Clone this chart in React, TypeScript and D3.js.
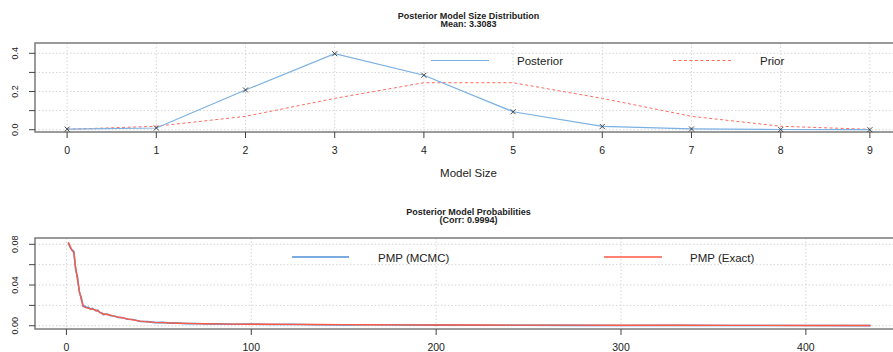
import React, { Component } from 'react';
import * as d3 from 'd3';

// top panel: model size distribution
const modelSizes = [0, 1, 2, 3, 4, 5, 6, 7, 8, 9];
const posteriorSize = [0.003, 0.009, 0.208, 0.398, 0.285, 0.094, 0.017, 0.004, 0.001, 0.0];
const priorSize = [0.002, 0.018, 0.07, 0.164, 0.246, 0.246, 0.164, 0.07, 0.018, 0.002];
const sizeTicksY = [0, 0.1, 0.2, 0.3, 0.4];
const sizeLabelsY = ['0.0', '', '0.2', '', '0.4'];

// bottom panel: posterior model probabilities by model rank
const pmpRanks = [1, 2, 3, 4, 5, 6, 7, 8, 9, 10, 11, 12, 13, 14, 15, 16, 17, 18, 19, 20, 22, 24, 26, 28, 30, 33, 36, 40, 44, 48, 52, 56, 60, 65, 70, 75, 80, 90, 100, 110, 120, 135, 150, 165, 180, 200, 225, 250, 275, 300, 330, 360, 400, 435];
const pmpExact = [0.082, 0.078, 0.074, 0.072, 0.057, 0.045, 0.034, 0.026, 0.02, 0.018, 0.0175, 0.0172, 0.0168, 0.0163, 0.0158, 0.0152, 0.0145, 0.0135, 0.0122, 0.0115, 0.011, 0.0104, 0.0092, 0.0085, 0.0078, 0.0068, 0.0058, 0.0045, 0.0038, 0.0033, 0.0031, 0.0028, 0.0025, 0.0023, 0.0021, 0.002, 0.0018, 0.0016, 0.0015, 0.0014, 0.0013, 0.0012, 0.0011, 0.001, 0.0009, 0.0008, 0.0007, 0.0006, 0.0006, 0.0005, 0.0005, 0.0004, 0.0003, 0.0003];
const pmpMcmc = [0.0815, 0.077, 0.0745, 0.073, 0.055, 0.048, 0.033, 0.028, 0.019, 0.019, 0.018, 0.0182, 0.0162, 0.017, 0.0158, 0.0146, 0.0152, 0.013, 0.0127, 0.011, 0.0115, 0.0098, 0.0096, 0.0081, 0.0081, 0.0064, 0.0061, 0.0042, 0.004, 0.0031, 0.0033, 0.0026, 0.0026, 0.0021, 0.0022, 0.0018, 0.0018, 0.0014, 0.0016, 0.0012, 0.0014, 0.001, 0.0009, 0.001, 0.0007, 0.0006, 0.0005, 0.0005, 0.0004, 0.0003, 0.0004, 0.0002, 0.0002, 0.0001];
const rankTicksX = [0, 100, 200, 300, 400];
const pmpTicksY = [0, 0.02, 0.04, 0.06, 0.08];
const pmpLabelsY = ['0.00', '', '0.04', '', '0.08'];

const FONT = '"Liberation Sans", Arial, sans-serif';
const TEXT = '#222';
const GRID = '#d6d6d6';
const FRAME = '#7a7a7a';

class App extends Component {
    svgRef = React.createRef<SVGSVGElement>();

    componentDidMount() {
        this.draw();
    }

    draw() {
        const svg = d3.select(this.svgRef.current);
        svg.selectAll('*').remove();

        //shared bits for both panels: grid, frame, axes
        const panel = (opts: any) => {
            const { x, y, xTicks, yTicks, yLabels, top, bottom, left, right } = opts;
            const g = svg.append('g');

            //dotted grid
            g.selectAll('.vgrid').data(xTicks).enter().append('line')
                .attr('x1', (d: any) => x(d)).attr('x2', (d: any) => x(d))
                .attr('y1', top).attr('y2', bottom)
                .attr('stroke', GRID).attr('stroke-dasharray', '1.5,2');
            g.selectAll('.hgrid').data(yTicks).enter().append('line')
                .attr('x1', left).attr('x2', right)
                .attr('y1', (d: any) => y(d)).attr('y2', (d: any) => y(d))
                .attr('stroke', GRID).attr('stroke-dasharray', '1.5,2');

            //frame (right edge falls outside the window)
            g.append('rect')
                .attr('x', left).attr('y', top)
                .attr('width', right - left).attr('height', bottom - top)
                .attr('fill', 'none').attr('stroke', FRAME).attr('stroke-width', 1.5);

            //x ticks
            g.selectAll('.xt').data(xTicks).enter().append('line')
                .attr('x1', (d: any) => x(d)).attr('x2', (d: any) => x(d))
                .attr('y1', bottom).attr('y2', bottom + 6)
                .attr('stroke', '#444');
            g.selectAll('.xl').data(xTicks).enter().append('text')
                .attr('x', (d: any) => x(d)).attr('y', bottom + 22)
                .attr('text-anchor', 'middle')
                .style('font', `10.5px ${FONT}`).attr('fill', TEXT)
                .text((d: any) => d);

            //y ticks, rotated labels
            g.selectAll('.yt').data(yTicks).enter().append('line')
                .attr('x1', left - 6).attr('x2', left)
                .attr('y1', (d: any) => y(d)).attr('y2', (d: any) => y(d))
                .attr('stroke', '#444');
            g.selectAll('.yl').data(yTicks).enter().append('text')
                .attr('transform', (d: any) => `translate(18, ${y(d)}) rotate(-90)`)
                .attr('text-anchor', 'middle')
                .style('font', `9px ${FONT}`).attr('fill', TEXT)
                .text((d: any, i: number) => yLabels[i]);
            return g;
        };

        const title = (lines: string[], cx: number, y0: number) => {
            lines.forEach((t, i) => {
                svg.append('text')
                    .attr('x', cx).attr('y', y0 + i * 8.8)
                    .attr('text-anchor', 'middle')
                    .style('font', `bold 9px ${FONT}`).attr('fill', TEXT)
                    .text(t);
            });
        };

        const legendItem = (x1: number, x2: number, y: number, color: string, width: number, dash: string | null, label: string, tx: number) => {
            svg.append('line')
                .attr('x1', x1).attr('x2', x2).attr('y1', y).attr('y2', y)
                .attr('stroke', color).attr('stroke-width', width)
                .attr('stroke-dasharray', dash);
            svg.append('text')
                .attr('x', tx).attr('y', y + 4.5)
                .style('font', `11.5px ${FONT}`).attr('fill', TEXT)
                .text(label);
        };

        const left = 35;
        const right = 902;

        //******** TOP: model size ********/
        const x1 = d3.scaleLinear().domain([-0.36, 9.36]).range([left, right]);
        const y1 = d3.scaleLinear().domain([-0.012, 0.454]).range([132, 43]);

        panel({ x: x1, y: y1, xTicks: modelSizes, yTicks: sizeTicksY, yLabels: sizeLabelsY, top: 43, bottom: 132, left, right });
        title(['Posterior Model Size Distribution', 'Mean: 3.3083'], (left + right) / 2, 18.5);

        const sizeLine = (vals: number[]) => d3.line<number>()
            .x((d, i) => x1(modelSizes[i]))
            .y(d => y1(d))(vals);

        svg.append('path').attr('d', sizeLine(priorSize))
            .attr('fill', 'none').attr('stroke', '#ff6b5e')
            .attr('stroke-width', 1).attr('stroke-dasharray', '3,2.5');
        svg.append('path').attr('d', sizeLine(posteriorSize))
            .attr('fill', 'none').attr('stroke', '#7cb0e2').attr('stroke-width', 1.2);

        //x markers on posterior
        const s = 2.5;
        svg.selectAll('.mk').data(posteriorSize).enter().append('path')
            .attr('d', (d, i) => {
                const cx = x1(modelSizes[i]);
                const cy = y1(d);
                return `M${cx - s},${cy - s}L${cx + s},${cy + s}M${cx - s},${cy + s}L${cx + s},${cy - s}`;
            })
            .attr('stroke', '#333').attr('stroke-width', 0.9);

        legendItem(431, 489, 60.5, '#7cb0e2', 1.2, null, 'Posterior', 517);
        legendItem(673, 732, 60.5, '#ff6b5e', 1, '3,2.5', 'Prior', 760);

        svg.append('text')
            .attr('x', (left + right) / 2).attr('y', 177)
            .attr('text-anchor', 'middle')
            .style('font', `11.5px ${FONT}`).attr('fill', TEXT)
            .text('Model Size');

        //******** BOTTOM: PMP ********/
        const x2 = d3.scaleLinear().domain([-17, 452]).range([left, right]);
        const y2 = d3.scaleLinear().domain([-0.0032, 0.0862]).range([329, 238]);

        panel({ x: x2, y: y2, xTicks: rankTicksX, yTicks: pmpTicksY, yLabels: pmpLabelsY, top: 238, bottom: 329, left, right });
        title(['Posterior Model Probabilities', '(Corr: 0.9994)'], (left + right) / 2, 214.5);

        const pmpLine = (vals: number[]) => d3.line<number>()
            .x((d, i) => x2(pmpRanks[i]))
            .y(d => y2(d))(vals);

        svg.append('path').attr('d', pmpLine(pmpMcmc))
            .attr('fill', 'none').attr('stroke', '#4f91d6').attr('stroke-width', 1.6);
        svg.append('path').attr('d', pmpLine(pmpExact))
            .attr('fill', 'none').attr('stroke', '#ff5a43').attr('stroke-width', 1.4);

        legendItem(292, 349, 257, '#4f91d6', 1.6, null, 'PMP (MCMC)', 378);
        legendItem(604, 662, 257, '#ff5a43', 1.6, null, 'PMP (Exact)', 690);
    }

    render() {
        return (
            <div>
                <style>{'body { margin: 0; background: #fff; }'}</style>
                <svg ref={this.svgRef} width={893} height={352} style={{ display: 'block' }} />
            </div>
        );
    }
}

export default App;
